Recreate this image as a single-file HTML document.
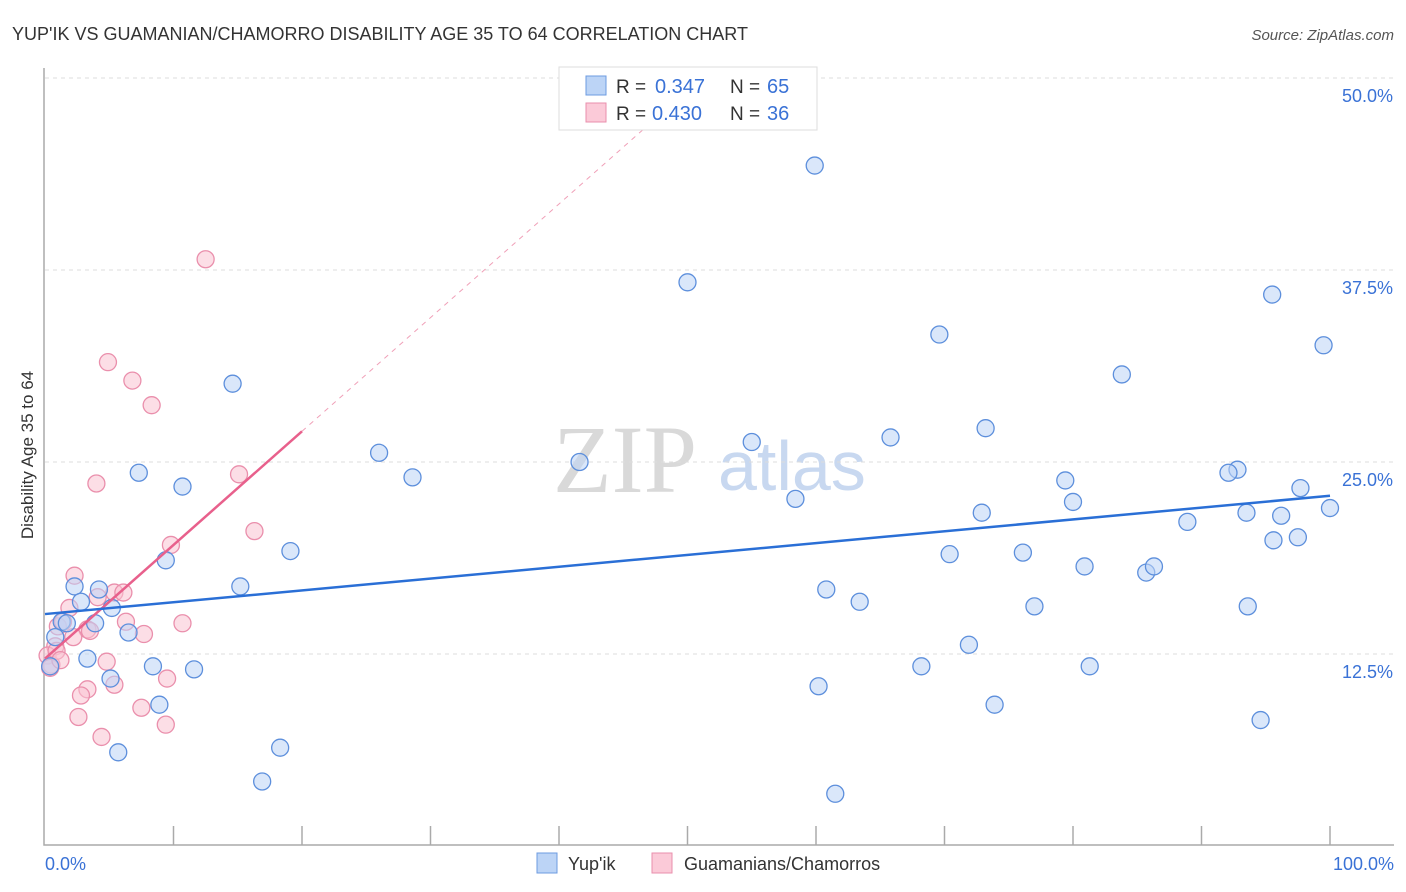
<!DOCTYPE html>
<html><head><meta charset="utf-8">
<style>
body{margin:0;background:#fff;font-family:"Liberation Sans",sans-serif;}
svg{display:block}
</style></head>
<body>
<svg id="chart" width="1406" height="892" xmlns="http://www.w3.org/2000/svg">
<text x="12" y="40" font-size="18" fill="#333">YUP'IK VS GUAMANIAN/CHAMORRO DISABILITY AGE 35 TO 64 CORRELATION CHART</text>
<text x="1394" y="40" font-size="15" fill="#555" text-anchor="end" font-style="italic">Source: ZipAtlas.com</text>
<text x="553" y="492" font-size="96" font-family="Liberation Serif,serif" fill="#d9d9d9">ZIP</text>
<text x="718" y="490" font-size="70" fill="#c8d8f0">atlas</text>
<g id="grid"></g>
<g id="axes"></g>
<g id="marks"></g>
<text transform="translate(33,455) rotate(-90)" font-size="17" fill="#333" text-anchor="middle">Disability Age 35 to 64</text>
<g>
<rect x="559" y="67" width="258" height="63" fill="#fff" stroke="#ddd"/>
<rect x="586" y="76" width="20" height="19" fill="#bcd4f6" stroke="#6d9be0"/>
<text x="616" y="93" font-size="19" fill="#333">R = </text><text x="655" y="93" font-size="20" fill="#3a72d6">0.347</text>
<text x="730" y="93" font-size="19" fill="#333">N = </text><text x="767" y="93" font-size="20" fill="#3a72d6">65</text>
<rect x="586" y="103" width="20" height="19" fill="#fbcad8" stroke="#ea8fac"/>
<text x="616" y="120" font-size="19" fill="#333">R = </text><text x="652" y="120" font-size="20" fill="#3a72d6">0.430</text>
<text x="730" y="120" font-size="19" fill="#333">N = </text><text x="767" y="120" font-size="20" fill="#3a72d6">36</text>
</g>
<g>
<rect x="537" y="853" width="20" height="20" fill="#bcd4f6" stroke="#6d9be0"/>
<text x="568" y="870" font-size="18" fill="#333">Yup'ik</text>
<rect x="652" y="853" width="20" height="20" fill="#fbcad8" stroke="#ea8fac"/>
<text x="684" y="870" font-size="18" fill="#333">Guamanians/Chamorros</text>
</g>
</svg>
<script>
const yTicks=[12.5,25,37.5,50];
const yTickLabels=["12.5%","25.0%","37.5%","50.0%"];
const xTickLabels=["0.0%","100.0%"];
const blueX=[59.9,50.0,95.5,69.6,99.5,14.6,83.8,26.0,73.2,65.8,55.0,41.6,7.3,28.6,92.8,92.1,10.7,79.4,58.4,80.0,72.9,97.7,100,93.5,96.2,88.9,95.6,97.5,19.1,9.4,70.4,76.1,80.9,85.7,86.3,2.3,4.2,15.2,60.8,2.8,5.2,63.4,77.0,93.6,1.3,1.7,3.9,6.5,0.8,71.9,3.3,8.4,11.6,68.2,81.3,0.4,5.1,60.2,8.9,73.9,94.6,5.7,18.3,16.9,61.5];
const blueY=[44.3,36.7,35.9,33.3,32.6,30.1,30.7,25.6,27.2,26.6,26.3,25.0,24.3,24.0,24.5,24.3,23.4,23.8,22.6,22.4,21.7,23.3,22.0,21.7,21.5,21.1,19.9,20.1,19.2,18.6,19.0,19.1,18.2,17.8,18.2,16.9,16.7,16.9,16.7,15.9,15.5,15.9,15.6,15.6,14.6,14.5,14.5,13.9,13.6,13.1,12.2,11.7,11.5,11.7,11.7,11.7,10.9,10.4,9.2,9.2,8.2,6.1,6.4,4.2,3.4];
const pinkX=[12.5,4.9,6.8,8.3,4.0,15.1,16.3,9.8,2.3,4.1,5.4,6.1,1.9,6.3,10.7,1.0,3.3,7.7,2.2,0.8,0.2,4.8,0.5,0.4,9.5,5.4,3.3,2.8,7.5,2.6,9.4,4.4,1.4,3.5,0.9,1.2];
const pinkY=[38.2,31.5,30.3,28.7,23.6,24.2,20.5,19.6,17.6,16.2,16.5,16.5,15.5,14.6,14.5,14.3,14.1,13.8,13.6,13.0,12.4,12.0,11.8,11.6,10.9,10.5,10.2,9.8,9.0,8.4,7.9,7.1,14.6,14.0,12.7,12.1];
const blueTrend=[15.1,22.8]; // y at x=0 and x=100
const pinkTrend=[12.2,27.0]; // y at x=0 and x=20
const NS="http://www.w3.org/2000/svg";
const X=v=>45+v*12.85, Y=v=>846-v*15.36;
function mk(tag,attrs,parent){const e=document.createElementNS(NS,tag);for(const k in attrs)e.setAttribute(k,attrs[k]);parent.appendChild(e);return e;}
const grid=document.getElementById('grid'),axes=document.getElementById('axes'),marks=document.getElementById('marks');
yTicks.forEach((t,i)=>{
 const l=mk('line',{x1:45,x2:1394,y1:Y(t),y2:Y(t),stroke:'#ddd','stroke-dasharray':'4,4'},grid);
 
 
 const tx=mk('text',{x:1393,y:Y(t)+24,'font-size':18,fill:'#3a72d6','text-anchor':'end'},axes);
 tx.textContent=yTickLabels[i];
 
 
});
const ax=mk('path',{d:'M44,68 V845 H1394',fill:'none',stroke:'#aaa','stroke-width':1.5},axes);


for(let i=1;i<=10;i++){
 const t=mk('line',{x1:X(i*10),x2:X(i*10),y1:826,y2:845,stroke:'#aaa','stroke-width':1.5},axes);
 
 
}
[[0,'start',45],[1,'end',1394]].forEach(([i,a,x])=>{
 const tx=mk('text',{x:x,y:870,'font-size':18,fill:'#3a72d6','text-anchor':a},axes);
 tx.textContent=xTickLabels[i];
 
 
});
function dots(xs,ys,fill,stroke,name){
 xs.forEach((v,i)=>{
  const c=mk('circle',{cx:X(v),cy:Y(ys[i]),r:8.5,fill:fill,'fill-opacity':0.55,stroke:stroke,'stroke-width':1.3},marks);
  
  
 });
}
dots(pinkX,pinkY,'#f9c2d2','#ea8fac','guamanian-point');
dots(blueX,blueY,'#bcd4f6','#5d8fdc','yupik-point');
const ps=(pinkTrend[1]-pinkTrend[0])/20, xEnd=(50-pinkTrend[0])/ps;
const pd=mk('line',{x1:X(20),y1:Y(pinkTrend[1]),x2:X(xEnd),y2:Y(50),stroke:'#f0a0b8','stroke-dasharray':'5,5','stroke-width':1},marks);


const pl=mk('line',{x1:X(0),y1:Y(pinkTrend[0]),x2:X(20),y2:Y(pinkTrend[1]),stroke:'#e8608c','stroke-width':2.5},marks);


const bl=mk('line',{x1:X(0),y1:Y(blueTrend[0]),x2:X(100),y2:Y(blueTrend[1]),stroke:'#2a6fd6','stroke-width':2.5},marks);


</script>
</body></html>
